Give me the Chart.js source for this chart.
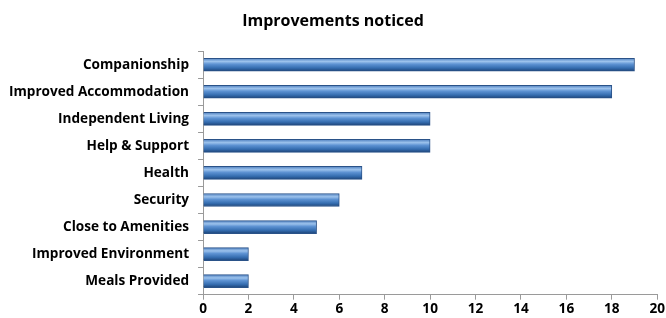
<!DOCTYPE html>
<html>
<head>
<meta charset="utf-8">
<script src="https://cdn.jsdelivr.net/npm/chart.js@4"></script>
<style>
  html, body { margin: 0; padding: 0; background: #fff; }
  #wrap { width: 666px; height: 318px; }
</style>
</head>
<body>
<div id="wrap"><canvas id="bar-chart"></canvas></div>
<script>
// Data
const categories = ['Companionship', 'Improved Accommodation', 'Independent Living', 'Help & Support',
    'Health', 'Security', 'Close to Amenities', 'Improved Environment', 'Meals Provided'];
const counts = [19, 18, 10, 10, 7, 6, 5, 2, 2];
const xTicks = [0, 2, 4, 6, 8, 10, 12, 14, 16, 18, 20];

const BAR_H = 13;

// cylinder look: vertical gradient for each bar
function barGradient(context) {
    const chart = context.chart;
    const yScale = chart.scales.y;
    if (!yScale || context.dataIndex === undefined) return '#4f81bd';
    const yc = yScale.getPixelForValue(context.dataIndex);
    if (!isFinite(yc)) return '#4f81bd';
    const g = chart.ctx.createLinearGradient(0, yc - BAR_H / 2, 0, yc + BAR_H / 2);
    g.addColorStop(0, '#4f80bf');
    g.addColorStop(0.25, '#9cc2ec');
    g.addColorStop(0.45, '#5e93d3');
    g.addColorStop(0.75, '#356db0');
    g.addColorStop(1, '#1d4478');
    return g;
}

const tickFont = { family: 'Open Sans', size: 13.6, weight: 'bold' };

const ctx = document.getElementById('bar-chart').getContext('2d');
const barChart = new Chart(ctx, {
    type: 'bar',
    data: {
        labels: categories,
        datasets: [{
            data: counts,
            backgroundColor: barGradient,
            borderColor: '#2a5288',
            borderWidth: 1,
            barThickness: BAR_H
        }]
    },
    options: {
        indexAxis: 'y',
        responsive: true,
        maintainAspectRatio: false,
        animation: false,
        layout: { padding: { left: 0, right: 0, top: 0, bottom: 0 } },
        plugins: {
            legend: { display: false },
            tooltip: { enabled: false },
            title: {
                display: true,
                text: 'Improvements noticed',
                color: '#000',
                font: { family: 'Open Sans', size: 16, weight: 'bold' },
                padding: { top: 12, bottom: 20 }
            }
        },
        scales: {
            x: {
                min: 0,
                max: 20,
                afterBuildTicks: axis => { axis.ticks = xTicks.map(v => ({ value: v })); },
                border: { color: '#9a9a9a', width: 1 },
                grid: { drawOnChartArea: false, drawTicks: true, tickLength: 5, color: '#9a9a9a' },
                ticks: { color: '#000', font: tickFont, padding: 1, maxRotation: 0 }
            },
            y: {
                border: { color: '#9a9a9a', width: 1 },
                grid: { offset: true, drawOnChartArea: false, drawTicks: true, tickLength: 5, color: '#9a9a9a' },
                ticks: { color: '#000', font: tickFont, padding: 9 }
            }
        }
    }
});
</script>
</body>
</html>
